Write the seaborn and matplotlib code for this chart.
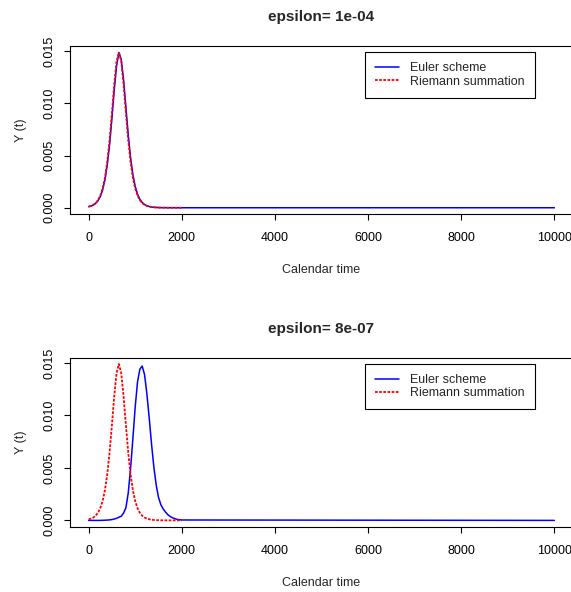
import matplotlib
matplotlib.use("Agg")
import matplotlib.pyplot as plt
import numpy as np
import pandas as pd
import seaborn as sns

# ---------------- data ----------------
time_grid = list(range(0, 2001, 50))          # calendar time of sampled points
time_grid_euler = time_grid + [10000]          # Euler curve continues to 10000

riemann_y = [0.000105, 0.00017, 0.000276, 0.000447, 0.00072, 0.00116, 0.00184,
             0.00288, 0.0044, 0.00649, 0.00909, 0.01185, 0.01404, 0.0149,
             0.01404, 0.01185, 0.00909, 0.00649, 0.0044, 0.00288, 0.00184,
             0.00116, 0.00072, 0.000447, 0.000276, 0.00017, 0.000105, 0.000065,
             0.00004, 0.000025, 0.000015, 0.00001, 0.000006, 0.000004,
             0.000002, 0.000001, 0.000001, 0.0, 0.0, 0.0, 0.0]

euler_top_y = [0.0001, 0.000157, 0.000255, 0.000413, 0.000665, 0.00107, 0.0017,
               0.00267, 0.0041, 0.00607, 0.00857, 0.0113, 0.0136, 0.01488,
               0.0142, 0.01229, 0.00964, 0.00701, 0.00482, 0.00318, 0.00205,
               0.0013, 0.00081, 0.0005, 0.00031, 0.00019, 0.00012, 0.00007,
               0.000045, 0.00003, 0.00002, 0.000012, 0.000008, 0.000005,
               0.000003, 0.000002, 0.000001, 0.000001, 0.0, 0.0, 0.0, 0.0]

euler_bottom_y = [0.0, 0.0, 0.0, 0.0, 0.0, 0.0, 0.00001, 0.00002, 0.00003,
                  0.00005, 0.00008, 0.00013, 0.0002, 0.0003, 0.0004, 0.0007,
                  0.0012, 0.0026, 0.0049, 0.0078, 0.0108, 0.0132, 0.0144,
                  0.0147, 0.0139, 0.0121, 0.0098, 0.0073, 0.0051, 0.0034,
                  0.0022, 0.0015, 0.0011, 0.0008, 0.00055, 0.00038, 0.00025,
                  0.00016, 0.0001, 0.00006, 0.00004, 0.0]

panel_titles = ["epsilon= 1e-04", "epsilon= 8e-07"]
series_labels = ["Euler scheme", "Riemann summation"]
x_ticks = [0, 2000, 4000, 6000, 8000, 10000]
x_tick_labels = ["0", "2000", "4000", "6000", "8000", "10000"]
y_ticks = [0.0, 0.005, 0.010, 0.015]
y_tick_labels = ["0.000", "0.005", "0.010", "0.015"]

# ---------------- style ----------------
sns.set_style("white")
plt.rcParams["font.family"] = ["Liberation Sans", "DejaVu Sans"]

W, H = 571, 592
fig = plt.figure(figsize=(W / 100, H / 100), dpi=100)
ax_top = fig.add_axes([70 / W, (H - 214) / H, 503 / W, 168 / H])
ax_bot = fig.add_axes([70 / W, (H - 526.7) / H, 503 / W, 169 / H])

panels = [(ax_top, euler_top_y, panel_titles[0]),
          (ax_bot, euler_bottom_y, panel_titles[1])]

for ax, euler_y, title in panels:
    sns.lineplot(x=time_grid_euler, y=euler_y, ax=ax, color="#0000FF",
                 linewidth=1.1, label=series_labels[0], sort=False)
    sns.lineplot(x=time_grid, y=riemann_y, ax=ax, color="#FF0000",
                 linewidth=1.3, linestyle=(0, (1.5, 0.8)),
                 label=series_labels[1], sort=False)
    ax.set_xlim(-400, 10400)
    ax.set_ylim(-0.0006, 0.0155)
    ax.set_xticks(x_ticks)
    ax.set_xticklabels(x_tick_labels)
    ax.set_yticks(y_ticks)
    ax.set_yticklabels(y_tick_labels)
    ax.tick_params(axis="both", direction="out", length=4.3, width=0.8,
                   color="black", labelsize=9, labelcolor="black",
                   bottom=True, left=True, top=False, right=False)
    ax.tick_params(axis="x", pad=9)
    ax.tick_params(axis="y", pad=6, labelrotation=90)
    for lab in ax.get_yticklabels():
        lab.set_va("center")
    for sp in ax.spines.values():
        sp.set_visible(True)
        sp.set_color("black")
        sp.set_linewidth(0.8)
    ax.set_title(title, fontsize=11, fontweight="bold", pad=18)
    ax.set_xlabel("Calendar time", fontsize=9, labelpad=14)
    ax.set_ylabel("Y (t)", fontsize=9, labelpad=12)
    leg = ax.legend(loc="upper right", bbox_to_anchor=(0.9238, 0.9625),
                    frameon=True, fancybox=False, edgecolor="black",
                    framealpha=1, fontsize=9, handlelength=1.9,
                    handletextpad=0.9, borderpad=0.8, labelspacing=0.1,
                    borderaxespad=0)
    leg.get_frame().set_linewidth(0.8)

fig.savefig("out.png", dpi=100)
